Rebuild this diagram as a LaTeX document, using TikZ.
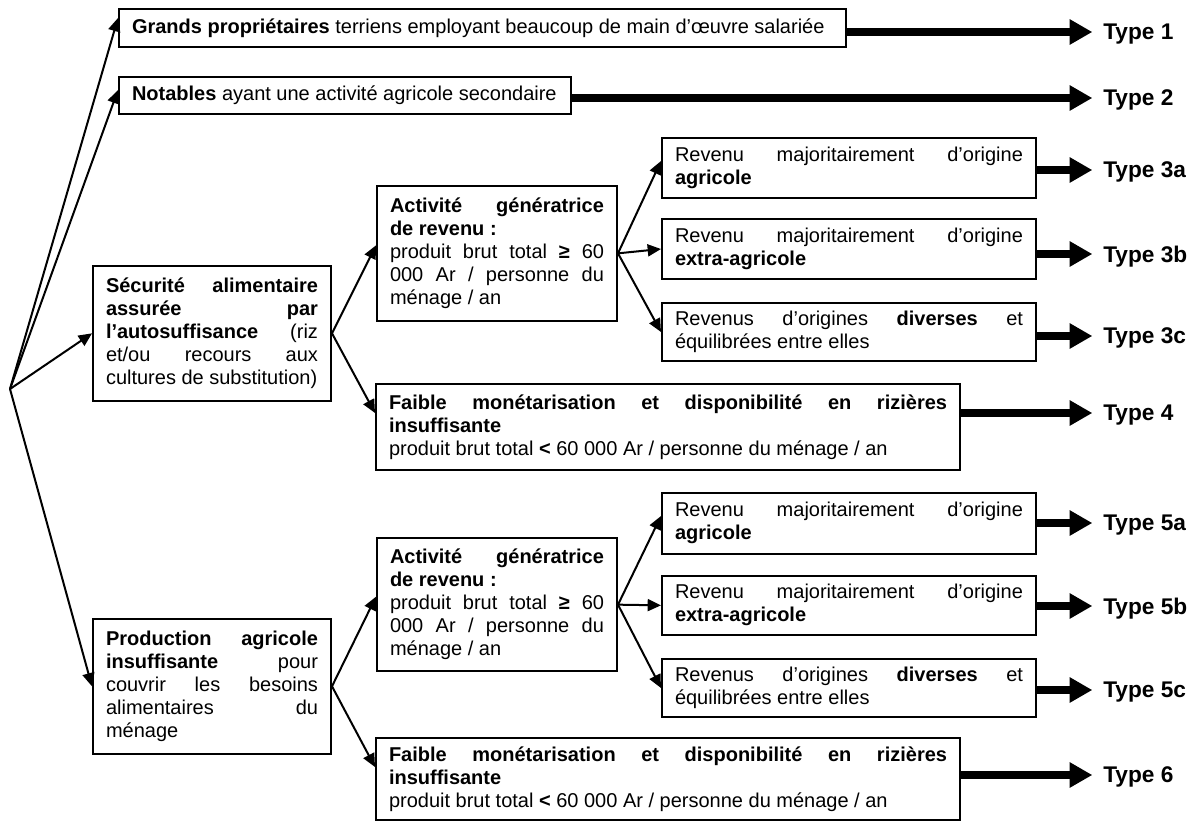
\documentclass[tikz,border=0pt]{standalone}
\usepackage{fontspec}
\setmainfont{Liberation Sans}
\usetikzlibrary{arrows.meta}

\newcommand{\boxfont}{\fontsize{15}{17.25}\selectfont\hyphenpenalty=10000\exhyphenpenalty=10000\tolerance=10000}
\newcommand{\typefont}{\fontsize{17}{19}\selectfont\bfseries}

\begin{document}
\begin{tikzpicture}[x=0.75pt, y=-0.75pt,
        box/.style = {draw, line width=1.5pt, anchor=north west, inner xsep=9.75pt, inner ysep=2pt, align=justify, font=\boxfont},
        thin/.style = {line width=1.5pt, -{Triangle[length=10pt, width=9pt]}},
        fat/.style = {line width=5.5pt, -{Triangle[length=17pt, width=18pt]}},
        typelabel/.style = {anchor=west, inner sep=0pt, text depth=0pt, font=\typefont}]
        \useasboundingbox[fill=white] (0,0) rectangle (1203,821);

        % first split
        \coordinate (root) at (10,389);
        \node[box, text width=525.75pt, minimum height=28.5pt] (grands) at (118,8)
            {\textbf{Grands propriétaires} terriens employant beaucoup de main d’œuvre salariée};
        \node[box, text width=319.5pt, minimum height=28pt] (notables) at (118,76)
            {\textbf{Notables} ayant une activité agricole secondaire};
        \node[box, text width=159pt, minimum height=101pt] (secu) at (92,265)
            {\textbf{Sécurité\hfill alimentaire}\\
             \textbf{assurée\hfill par}\\
             \textbf{l’autosuffisance}\hfill(riz\\
             et/ou\hfill recours\hfill aux\\
             cultures de substitution)};
        \node[box, text width=159pt, minimum height=101pt] (prod) at (92,618)
            {\textbf{Production\hfill agricole}\\
             \textbf{insuffisante}\hfill pour\\
             couvrir\hfill les\hfill besoins\\
             alimentaires\hfill du\\
             ménage};

        % food secure branch
        \node[box, text width=160.5pt, minimum height=101pt] (act1) at (376,185)
            {\textbf{Activité\hfill génératrice}\\
             \textbf{de revenu :}\\
             produit\hfill brut\hfill total\hfill\textbf{≥}\hfill 60\\
             000\hfill Ar\hfill /\hfill personne\hfill du\\
             ménage / an};
        \node[box, text width=261pt, minimum height=45pt] (rev3a) at (661,137)
            {Revenu\hfill majoritairement\hfill d’origine\\ \textbf{agricole}};
        \node[box, text width=261pt, minimum height=45pt] (rev3b) at (661,218)
            {Revenu\hfill majoritairement\hfill d’origine\\ \textbf{extra-agricole}};
        \node[box, text width=261pt, minimum height=43.5pt] (rev3c) at (661,302)
            {Revenus\hfill d’origines\hfill\textbf{diverses}\hfill et\\ équilibrées entre elles};
        \node[box, text width=418.5pt, minimum height=64.5pt] (faible1) at (375,383)
            {\textbf{Faible\hfill monétarisation\hfill et\hfill disponibilité\hfill en\hfill rizières}\\
             \textbf{insuffisante}\\
             produit brut total \textbf{<} 60 000 Ar / personne du ménage / an};

        % food insecure branch
        \node[box, text width=160.5pt, minimum height=100pt] (act2) at (376,537)
            {\textbf{Activité\hfill génératrice}\\
             \textbf{de revenu :}\\
             produit\hfill brut\hfill total\hfill\textbf{≥}\hfill 60\\
             000\hfill Ar\hfill /\hfill personne\hfill du\\
             ménage / an};
        \node[box, text width=261pt, minimum height=45.5pt] (rev5a) at (661,492)
            {Revenu\hfill majoritairement\hfill d’origine\\ \textbf{agricole}};
        \node[box, text width=261pt, minimum height=44pt] (rev5b) at (661,575)
            {Revenu\hfill majoritairement\hfill d’origine\\ \textbf{extra-agricole}};
        \node[box, text width=261pt, minimum height=43.5pt] (rev5c) at (661,658)
            {Revenus\hfill d’origines\hfill\textbf{diverses}\hfill et\\ équilibrées entre elles};
        \node[box, text width=418.5pt, minimum height=61.5pt] (faible2) at (375,737)
            {\textbf{Faible\hfill monétarisation\hfill et\hfill disponibilité\hfill en\hfill rizières}\\
             \textbf{insuffisante}\\
             produit brut total \textbf{<} 60 000 Ar / personne du ménage / an};

        % types
        \node[typelabel] (t1) at (1103,32) {Type 1};
        \node[typelabel] (t2) at (1103,98) {Type 2};
        \node[typelabel] (t3a) at (1103,170) {Type 3a};
        \node[typelabel] (t3b) at (1103,254) {Type 3b};
        \node[typelabel] (t3c) at (1103,336) {Type 3c};
        \node[typelabel] (t4) at (1103,413) {Type 4};
        \node[typelabel] (t5a) at (1103,523) {Type 5a};
        \node[typelabel] (t5b) at (1103,606) {Type 5b};
        \node[typelabel] (t5c) at (1103,690) {Type 5c};
        \node[typelabel] (t6) at (1103,775) {Type 6};

        % thin arrows
        \draw[thin] (root) -- ([yshift=-7.5pt]grands.north west);
        \draw[thin] (root) -- ([yshift=-10.5pt]notables.north west);
        \draw[thin] (root) -- (secu.west);
        \draw[thin] (root) -- (prod.west);
        \draw[thin] (secu.east) -- ([yshift=6pt]act1.west);
        \draw[thin] (secu.east) -- ([yshift=-22.5pt]faible1.north west);
        \draw[thin] (prod.east) -- ([yshift=6pt]act2.west);
        \draw[thin] (prod.east) -- ([yshift=-22.5pt]faible2.north west);
        \draw[thin] (act1.east) -- ([yshift=-18pt]rev3a.north west);
        \draw[thin] (act1.east) -- (rev3b.west);
        \draw[thin] (act1.east) -- (rev3c.west);
        \draw[thin] (act2.east) -- ([yshift=-18pt]rev5a.north west);
        \draw[thin] (act2.east) -- (rev5b.west);
        \draw[thin] (act2.east) -- (rev5c.west);

        % thick arrows to the types
        \draw[fat] (t1 -| grands.east) -- ([xshift=-8pt]t1.west);
        \draw[fat] (t2 -| notables.east) -- ([xshift=-8pt]t2.west);
        \draw[fat] (t3a -| rev3a.east) -- ([xshift=-8pt]t3a.west);
        \draw[fat] (t3b -| rev3b.east) -- ([xshift=-8pt]t3b.west);
        \draw[fat] (t3c -| rev3c.east) -- ([xshift=-8pt]t3c.west);
        \draw[fat] (t4 -| faible1.east) -- ([xshift=-8pt]t4.west);
        \draw[fat] (t5a -| rev5a.east) -- ([xshift=-8pt]t5a.west);
        \draw[fat] (t5b -| rev5b.east) -- ([xshift=-8pt]t5b.west);
        \draw[fat] (t5c -| rev5c.east) -- ([xshift=-8pt]t5c.west);
        \draw[fat] (t6 -| faible2.east) -- ([xshift=-8pt]t6.west);
\end{tikzpicture}
\end{document}
